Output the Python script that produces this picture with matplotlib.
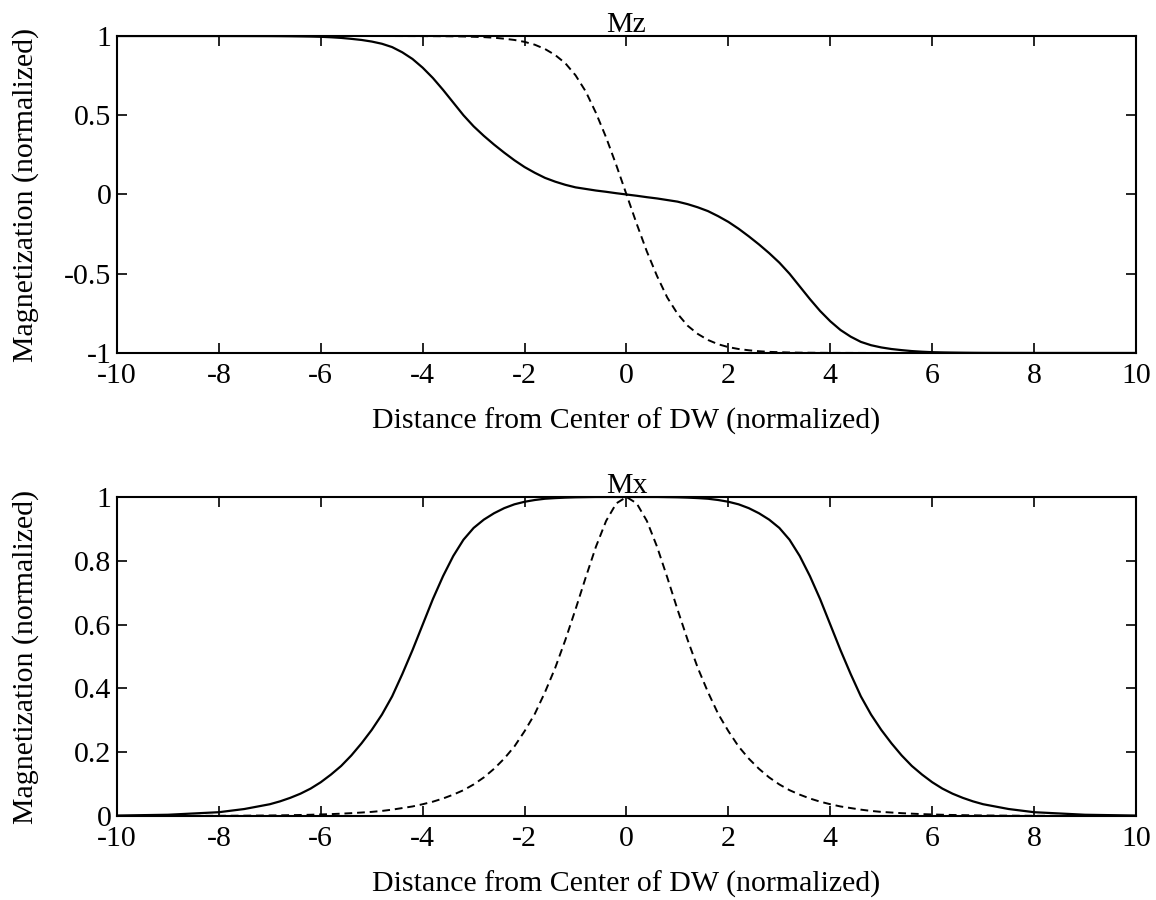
import matplotlib
matplotlib.use("Agg")
import matplotlib.pyplot as plt

# distance from centre of domain wall (normalized)
x = [-10, -9, -8, -7.5, -7, -6.8, -6.6, -6.4, -6.2, -6, -5.8, -5.6, -5.4,
     -5.2, -5, -4.8, -4.6, -4.4, -4.2, -4, -3.8, -3.6, -3.4, -3.2, -3,
     -2.8, -2.6, -2.4, -2.2, -2, -1.8, -1.6, -1.4, -1.2, -1, -0.8, -0.6,
     -0.4, -0.2, 0, 0.2, 0.4, 0.6, 0.8, 1, 1.2, 1.4, 1.6, 1.8, 2, 2.2,
     2.4, 2.6, 2.8, 3, 3.2, 3.4, 3.6, 3.8, 4, 4.2, 4.4, 4.6, 4.8, 5, 5.2,
     5.4, 5.6, 5.8, 6, 6.2, 6.4, 6.6, 6.8, 7, 7.5, 8, 9, 10]

# Mz, solid curve
mz_solid = [1.0, 1.0, 0.9999, 0.9997, 0.9993, 0.9989, 0.9983, 0.9975,
            0.9965, 0.995, 0.992, 0.988, 0.982, 0.975, 0.965, 0.951, 0.93,
            0.897, 0.855, 0.80, 0.735, 0.66, 0.58, 0.50, 0.43, 0.37, 0.315,
            0.264, 0.216, 0.173, 0.137, 0.105, 0.081, 0.061, 0.045, 0.035,
            0.025, 0.017, 0.008, 0.0, -0.008, -0.017, -0.025, -0.035,
            -0.045, -0.061, -0.081, -0.105, -0.137, -0.173, -0.216, -0.264,
            -0.315, -0.37, -0.43, -0.50, -0.58, -0.66, -0.735, -0.80,
            -0.855, -0.897, -0.93, -0.951, -0.965, -0.975, -0.982, -0.988,
            -0.992, -0.995, -0.9965, -0.9975, -0.9983, -0.9989, -0.9993,
            -0.9997, -0.9999, -1.0, -1.0]

# Mz, dashed curve
mz_dashed = [1.0, 1.0, 1.0, 1.0, 1.0, 1.0, 1.0, 1.0, 1.0, 1.0, 0.9999,
             0.9999, 0.9999, 0.9999, 0.9998, 0.9998, 0.9997, 0.9996, 0.9995,
             0.9993, 0.999, 0.9985, 0.998, 0.997, 0.995, 0.993, 0.989,
             0.983, 0.975, 0.963, 0.945, 0.918, 0.88, 0.828, 0.752, 0.65,
             0.515, 0.36, 0.185, 0.0, -0.185, -0.36, -0.515, -0.65, -0.752,
             -0.828, -0.88, -0.918, -0.945, -0.963, -0.975, -0.983, -0.989,
             -0.993, -0.995, -0.997, -0.998, -0.9985, -0.999, -0.9993,
             -0.9995, -0.9996, -0.9997, -0.9998, -0.9998, -0.9999, -0.9999,
             -0.9999, -0.9999, -1.0, -1.0, -1.0, -1.0, -1.0, -1.0, -1.0,
             -1.0, -1.0, -1.0]

# Mx, solid curve
mx_solid = [0.0015, 0.004, 0.012, 0.022, 0.037, 0.046, 0.057, 0.07, 0.086,
            0.106, 0.13, 0.157, 0.19, 0.228, 0.27, 0.318, 0.375, 0.445,
            0.52, 0.60, 0.68, 0.752, 0.815, 0.866, 0.903, 0.929, 0.949,
            0.965, 0.977, 0.985, 0.9905, 0.9945, 0.9965, 0.998, 0.999,
            0.9995, 1.0, 1.0, 1.0, 1.0, 1.0, 1.0, 1.0, 0.9995, 0.999, 0.998,
            0.9965, 0.9945, 0.9905, 0.985, 0.977, 0.965, 0.949, 0.929,
            0.903, 0.866, 0.815, 0.752, 0.68, 0.60, 0.52, 0.445, 0.375,
            0.318, 0.27, 0.228, 0.19, 0.157, 0.13, 0.106, 0.086, 0.07,
            0.057, 0.046, 0.037, 0.022, 0.012, 0.004, 0.0015]

# Mx, dashed curve
mx_dashed = [0.0001, 0.0002, 0.0007, 0.0011, 0.0018, 0.0022, 0.0027,
             0.0033, 0.004, 0.005, 0.006, 0.0074, 0.009, 0.011, 0.013,
             0.016, 0.02, 0.025, 0.03, 0.037, 0.045, 0.055, 0.067, 0.081,
             0.099, 0.121, 0.148, 0.18, 0.218, 0.266, 0.32, 0.388, 0.464,
             0.552, 0.648, 0.748, 0.844, 0.925, 0.98, 1.0, 0.98, 0.925,
             0.844, 0.748, 0.648, 0.552, 0.464, 0.388, 0.32, 0.266, 0.218,
             0.18, 0.148, 0.121, 0.099, 0.081, 0.067, 0.055, 0.045, 0.037,
             0.03, 0.025, 0.02, 0.016, 0.013, 0.011, 0.009, 0.0074, 0.006,
             0.005, 0.004, 0.0033, 0.0027, 0.0022, 0.0018, 0.0011, 0.0007,
             0.0002, 0.0001]

x_ticks = [-10, -8, -6, -4, -2, 0, 2, 4, 6, 8, 10]
x_labels = ["-10", "-8", "-6", "-4", "-2", "0", "2", "4", "6", "8", "10"]
mz_ticks = [-1, -0.5, 0, 0.5, 1]
mz_labels = ["-1", "-0.5", "0", "0.5", "1"]
mx_ticks = [0, 0.2, 0.4, 0.6, 0.8, 1]
mx_labels = ["0", "0.2", "0.4", "0.6", "0.8", "1"]

FS = 21.5
plt.rcParams["font.family"] = ["Liberation Serif", "DejaVu Serif"]
plt.rcParams["font.size"] = FS
plt.rcParams["axes.unicode_minus"] = False

fig = plt.figure(figsize=(11.56, 9), dpi=100)
ax1 = fig.add_axes([0.1012, 0.6078, 0.8815, 0.3522])
ax2 = fig.add_axes([0.1012, 0.0933, 0.8815, 0.3545])


def style(ax, yticks, ylabels, ylim, title):
    ax.set_xlim(-10, 10)
    ax.set_ylim(*ylim)
    ax.set_xticks(x_ticks)
    ax.set_xticklabels(x_labels)
    ax.set_yticks(yticks)
    ax.set_yticklabels(ylabels)
    ax.tick_params(direction="in", length=7, width=1.2, top=True, right=True,
                   labelsize=FS)
    ax.tick_params(axis="x", pad=7)
    ax.tick_params(axis="y", pad=4)
    for s in ax.spines.values():
        s.set_linewidth(1.5)
    ax.set_xlabel("Distance from Center of DW (normalized)", fontsize=FS, labelpad=14)
    ax.set_ylabel("Magnetization (normalized)", fontsize=FS)
    ax.set_title(title, fontsize=FS, pad=3)
    ax.yaxis.set_label_coords(-0.077, 0.5)


ax1.plot(x, mz_solid, color="black", lw=1.6)
ax1.plot(x, mz_dashed, color="black", lw=1.4, dashes=(4, 2.5))
style(ax1, mz_ticks, mz_labels, (-1, 1), "Mz")

ax2.plot(x, mx_solid, color="black", lw=1.6)
ax2.plot(x, mx_dashed, color="black", lw=1.4, dashes=(4, 2.5))
style(ax2, mx_ticks, mx_labels, (0, 1), "Mx")

fig.savefig("out.png", dpi=100)
